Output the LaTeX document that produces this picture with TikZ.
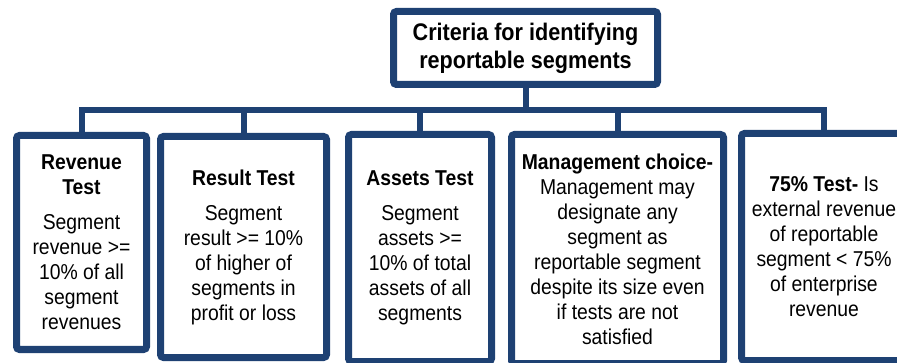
\documentclass[tikz,border=0pt]{standalone}
\usepackage{fontspec}
\setmainfont{Liberation Sans}[FakeStretch=0.9]
\usepackage{tikz}
\usetikzlibrary{positioning,shadows}
\definecolor{critblue}{RGB}{30,65,115}

\tikzset{
	critbox/.style={draw=critblue, line width=7pt, fill=white, rounded corners=3pt,
		inner sep=0pt, align=center, font=\fontsize{21.5}{25}\selectfont,
		drop shadow={opacity=0.22, shadow xshift=1.5pt, shadow yshift=-2.5pt}},
	link/.style={draw=critblue, line width=6pt},
}

\begin{document}
\begin{tikzpicture}[x=1pt, y=-1pt]
		\useasboundingbox (0,0) rectangle (897,363);
		\clip (0,0) rectangle (897,363);

		% Define nodes
		\node[critbox, minimum width=264pt, minimum height=73pt,
			font=\fontsize{24}{28}\selectfont\bfseries] (crit) at (525.5,48)
			{Criteria for identifying\\reportable segments};
		\node[critbox, minimum width=130pt, minimum height=214pt] (rev) at (81.5,242.5)
			{\textbf{Revenue}\\\textbf{Test}\\[10pt]Segment\\revenue >=\\10\% of all\\segment\\revenues};
		\node[critbox, minimum width=166pt, minimum height=221pt] (res) at (243.5,247)
			{\textbf{Result Test}\\[10pt]Segment\\result >= 10\%\\of higher of\\segments in\\profit or loss};
		\node[critbox, minimum width=143pt, minimum height=227pt] (ass) at (420,248)
			{\textbf{Assets Test}\\[10pt]Segment\\assets >=\\10\% of total\\assets of all\\segments};
		\node[critbox, minimum width=212pt, minimum height=229pt] (man) at (617.5,249)
			{\textbf{Management choice-}\\Management may\\designate any\\segment as\\reportable segment\\despite its size even\\if tests are not\\satisfied};
		\node[critbox, minimum width=165pt, minimum height=227pt] (pct) at (824,247)
			{\textbf{75\% Test-} Is\\external revenue\\of reportable\\segment < 75\%\\of enterprise\\revenue};

		% Connect the nodes
		\coordinate (bus) at (525.5,110);
		\draw[link] (crit.south) -- (bus);
		\foreach \b in {rev,res,ass,man,pct}
			\draw[link] (bus) -| (\b.north);
	\end{tikzpicture}
\end{document}
